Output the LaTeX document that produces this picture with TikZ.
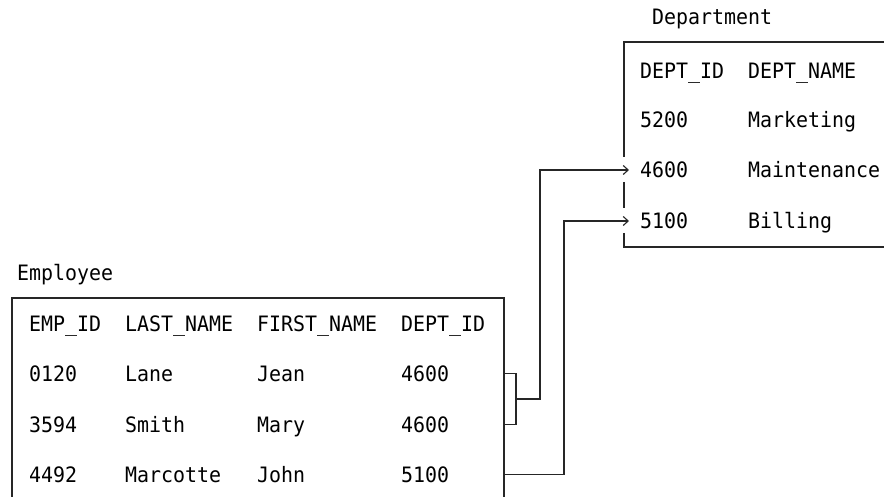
\documentclass[tikz,border=0pt]{standalone}
\usepackage{fontspec}
\setmainfont[FakeStretch=0.94]{DejaVu Sans Mono}
\usetikzlibrary{arrows.meta}
\begin{document}
\begin{tikzpicture}[x=1pt,y=-1pt,
  txt/.style={anchor=base west,inner sep=0pt,font=\fontsize{21.2}{22}\selectfont},
  box/.style={line width=1.1pt,black!85},
  link/.style={line width=1.1pt,black!85},
  arr/.style={link,-{Straight Barb[length=5pt,width=9pt,line width=1.1pt]}}]
\useasboundingbox (0,0) rectangle (884,497);
% Department table
\node[txt] (dtitle) at (652,25) {Department};
\draw[box] (884,42) -- (624,42) -- (624,157);
\draw[box] (624,182) -- (624,208);
\draw[box] (624,233) -- (624,247) -- (884,247);
\node[txt] (dh1) at (640,79) {DEPT\_ID};
\node[txt] (dh2) at (748,79) {DEPT\_NAME};
\node[txt] (d1a) at (640,128) {5200};
\node[txt] (d1b) at (748,128) {Marketing};
\node[txt] (d2a) at (640,178) {4600};
\node[txt] (d2b) at (748,178) {Maintenance};
\node[txt] (d3a) at (640,229) {5100};
\node[txt] (d3b) at (748,229) {Billing};
% Employee table
\node[txt] (etitle) at (17,281) {Employee};
\draw[box] (12,497) -- (12,298) -- (504,298) -- (504,497);
\node[txt] (eh1) at (29,331) {EMP\_ID};
\node[txt] (eh2) at (125,331) {LAST\_NAME};
\node[txt] (eh3) at (257,331) {FIRST\_NAME};
\node[txt] (eh4) at (401,331) {DEPT\_ID};
\node[txt] (e1a) at (29,381) {0120};
\node[txt] (e1b) at (125,381) {Lane};
\node[txt] (e1c) at (257,381) {Jean};
\node[txt] (e1d) at (401,381) {4600};
\node[txt] (e2a) at (29,432) {3594};
\node[txt] (e2b) at (125,432) {Smith};
\node[txt] (e2c) at (257,432) {Mary};
\node[txt] (e2d) at (401,432) {4600};
\node[txt] (e3a) at (29,482) {4492};
\node[txt] (e3b) at (125,482) {Marcotte};
\node[txt] (e3c) at (257,482) {John};
\node[txt] (e3d) at (401,482) {5100};
% connector points
\coordinate (s1) at (504,373.5);
\coordinate (s2) at (504,424.5);
\coordinate (s3) at (504,474.5);
\coordinate (t1) at (629,170);
\coordinate (t2) at (629,221);
\draw[link] (s1) -- (516,373.5) -- (516,424.5) -- (s2);
\draw[arr] (516,399) -- (540,399) -- (540,170) -- (t1);
\draw[arr] (s3) -- (564,474.5) -- (564,221) -- (t2);
\end{tikzpicture}
\end{document}
